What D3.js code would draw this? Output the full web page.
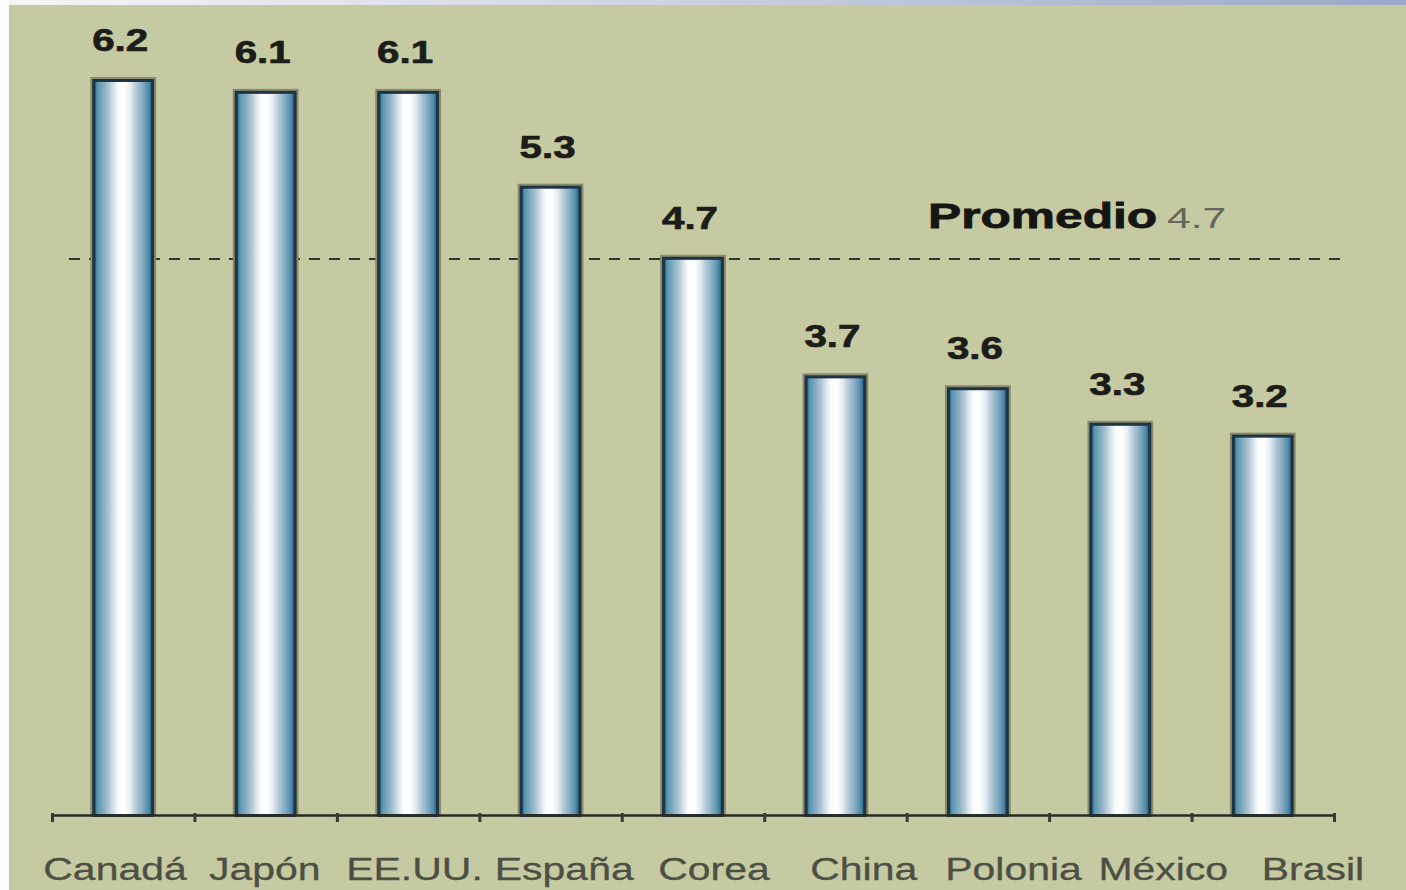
<!DOCTYPE html>
<html><head><meta charset="utf-8">
<script src="https://cdn.jsdelivr.net/npm/d3@7"></script>
<style>html,body{margin:0;padding:0;background:#fbfbfb;}svg{display:block;}</style>
</head><body>
<script>
const categories = ["Canadá","Japón","EE.UU.","España","Corea","China","Polonia","México","Brasil"];
const values = [6.2, 6.1, 6.1, 5.3, 4.7, 3.7, 3.6, 3.3, 3.2];
const valueLabels = ["6.2","6.1","6.1","5.3","4.7","3.7","3.6","3.3","3.2"];
const averageValue = 4.7;
const averageTitle = "Promedio";
const averageLabel = "4.7";

const W = 1406, H = 890;
const svg = d3.select("body").append("svg").attr("width", W).attr("height", H);
const defs = svg.append("defs");

// frame strips
const topGrad = defs.append("linearGradient").attr("id","topg").attr("x1","0").attr("x2","1").attr("y1","0").attr("y2","0");
topGrad.append("stop").attr("offset","0").attr("stop-color","#f6f6f6");
topGrad.append("stop").attr("offset","0.25").attr("stop-color","#e2e4ea");
topGrad.append("stop").attr("offset","1").attr("stop-color","#9aa9c9");
svg.append("rect").attr("x",0).attr("y",0).attr("width",W).attr("height",H).attr("fill","#fbfbfb");
svg.append("rect").attr("x",9).attr("y",5).attr("width",W-9).attr("height",H-5).attr("fill","#c6caa2");
svg.append("rect").attr("x",9).attr("y",0).attr("width",W-9).attr("height",5).attr("fill","url(#topg)");

// bar gradient
const bg = defs.append("linearGradient").attr("id","barg").attr("x1","0").attr("x2","1").attr("y1","0").attr("y2","0");
[[0,"#244f66"],[0.06,"#5895b3"],[0.15,"#7fa9bf"],[0.25,"#adc4d2"],[0.34,"#d9e4eb"],[0.42,"#fbfcfd"],[0.52,"#ffffff"],[0.62,"#e6edf2"],[0.72,"#b4c9d6"],[0.83,"#83abc1"],[0.93,"#4f8cab"],[1,"#244f66"]]
  .forEach(s => bg.append("stop").attr("offset", s[0]).attr("stop-color", s[1]));

const x = d3.scaleBand().domain(categories).range([52, 1334]).paddingInner(0.58).paddingOuter(0.29);
const y = d3.scaleLinear().domain([0, 6.2]).range([815, 80]);
const xl = d3.scalePoint().domain(categories).range([115, 1313]);
const tickScale = d3.scaleLinear().domain([0, categories.length]).range([52, 1334]);

// average dashed line (behind bars)
const ay = Math.round(y(averageValue)) + 1;
svg.append("line").attr("x1", 69).attr("x2", 1342).attr("y1", ay).attr("y2", ay)
  .attr("stroke","#34342c").attr("stroke-width",2).attr("stroke-dasharray","11,9");

// bars
const bars = svg.append("g");
bars.selectAll("rect.halo").data(values).join("rect").attr("class","halo")
  .attr("x",(d,i)=>x(categories[i])-3).attr("y",d=>y(d)-3)
  .attr("width",x.bandwidth()+6).attr("height",d=>y(0)-y(d)+3)
  .attr("fill","#8a8a6c");
bars.selectAll("rect.bar").data(values).join("rect").attr("class","bar")
  .attr("x",(d,i)=>x(categories[i])+0.5).attr("y",d=>y(d)+0.5)
  .attr("width",x.bandwidth()-1).attr("height",d=>y(0)-y(d))
  .attr("fill","url(#barg)").attr("stroke","#1c3444").attr("stroke-width",3);

// axis
const axis = d3.axisBottom(tickScale).tickValues(d3.range(categories.length+1)).tickFormat("").tickSizeInner(9).tickSizeOuter(0);
const ag = svg.append("g").attr("transform","translate(0,815)").call(axis);
ag.select(".domain").attr("stroke","#2b2b26").attr("stroke-width",2.5);
ag.selectAll(".tick line").attr("stroke","#3a3a32").attr("stroke-width",3).attr("transform","translate(0,-2)");

// value labels
svg.append("g").selectAll("text").data(values).join("text")
  .attr("transform",(d,i)=>`translate(${x(categories[i])+x.bandwidth()/2-3},${y(d)-29}) scale(1.3,1)`)
  .attr("text-anchor","middle")
  .style("font-family","'Liberation Sans', Arial, sans-serif").style("font-weight","bold").style("font-size","31px")
  .attr("fill","#1c1c18").attr("stroke","#1c1c18").attr("stroke-width",0.7)
  .text((d,i)=>valueLabels[i]);

// category labels
svg.append("g").selectAll("text").data(categories).join("text")
  .attr("transform",d=>`translate(${xl(d)},880) scale(1.28,1)`)
  .attr("text-anchor","middle")
  .style("font-family","'Liberation Sans', Arial, sans-serif").style("font-size","32px")
  .attr("fill","#4d4f42").attr("stroke","#4d4f42").attr("stroke-width",0.3).text(d=>d);

// average label
const avg = svg.append("text").attr("transform","translate(928,228) scale(1.42,1)")
  .style("font-family","'Liberation Sans', Arial, sans-serif");
avg.append("tspan").style("font-weight","bold").style("font-size","35px").attr("fill","#151512")
  .attr("stroke","#151512").attr("stroke-width",0.8).text(averageTitle);
avg.append("tspan").attr("dx",7).style("font-size","30px").attr("fill","#66665a").text(averageLabel);
</script>
</body></html>
